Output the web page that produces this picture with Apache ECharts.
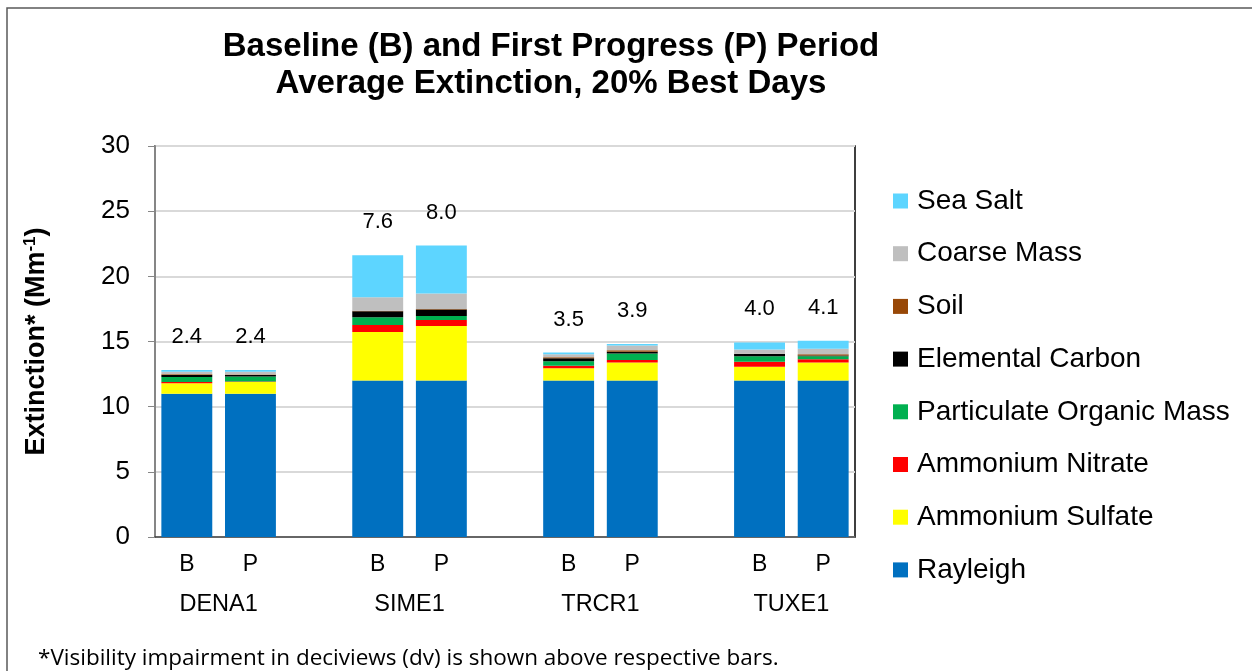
<!DOCTYPE html>
<html>
<head>
<meta charset="utf-8">
<title>Average Extinction, 20% Best Days</title>
<script src="https://cdn.jsdelivr.net/npm/echarts@6/dist/echarts.min.js"></script>
<style>
  html, body { margin: 0; padding: 0; background: #fff; }
  #chart { width: 1252px; height: 671px; }
</style>
</head>
<body>
<div id="chart"></div>
<script>
// sites and periods (B = baseline, P = first progress)
const sites = ['DENA1', 'SIME1', 'TRCR1', 'TUXE1'];
const periods = ['B', 'P'];

// extinction by component, Mm-1, order: DENA1 B,P / SIME1 B,P / TRCR1 B,P / TUXE1 B,P
const rayleigh   = [11, 11, 12, 12, 12, 12, 12, 12];
const sulfate    = [0.8, 0.9, 3.73, 4.19, 0.95, 1.38, 1.07, 1.38];
const nitrate    = [0.1, 0.03, 0.54, 0.46, 0.18, 0.2, 0.38, 0.26];
const organic    = [0.38, 0.38, 0.59, 0.31, 0.36, 0.49, 0.41, 0.23];
const elemental  = [0.15, 0.12, 0.46, 0.5, 0.23, 0.15, 0.18, 0.05];
const soil       = [0.05, 0.04, 0.03, 0.03, 0.08, 0.1, 0.02, 0.1];
const coarse     = [0.2, 0.2, 1.05, 1.2, 0.23, 0.38, 0.33, 0.43];
const seaSalt    = [0.13, 0.14, 3.22, 3.68, 0.13, 0.1, 0.54, 0.61];

// visibility impairment in deciviews, shown above bars
const deciviews  = [2.4, 2.4, 7.6, 8.0, 3.5, 3.9, 4.0, 4.1];

const yTicks = { min: 0, max: 30, step: 5 };

// Excel-style layout: an empty slot between each site's pair of bars
const categories = [];
sites.forEach((s, i) => {
  if (i > 0) categories.push('');
  periods.forEach(p => categories.push(p));
});
const spread = arr => {
  const out = [];
  arr.forEach((v, i) => {
    if (i > 0 && i % 2 === 0) out.push('-');
    out.push(v);
  });
  return out;
};
const dvSlots = spread(deciviews);

const components = [
  { name: 'Rayleigh', data: rayleigh, color: '#0070C0' },
  { name: 'Ammonium Sulfate', data: sulfate, color: '#FFFF00' },
  { name: 'Ammonium Nitrate', data: nitrate, color: '#FF0000' },
  { name: 'Particulate Organic Mass', data: organic, color: '#00B050' },
  { name: 'Elemental Carbon', data: elemental, color: '#000000' },
  { name: 'Soil', data: soil, color: '#984807' },
  { name: 'Coarse Mass', data: coarse, color: '#BFBFBF' },
  { name: 'Sea Salt', data: seaSalt, color: '#5DD5FF' }
];

const series = components.map((c, idx) => {
  const s = {
    name: c.name,
    type: 'bar',
    stack: 'ext',
    barCategoryGap: '20%',
    data: spread(c.data),
    itemStyle: { color: c.color },
    emphasis: { disabled: true }
  };
  if (idx === components.length - 1) {
    s.label = {
      show: true,
      position: 'top',
      distance: 22,
      fontSize: 22,
      color: '#000',
      fontFamily: 'Liberation Sans',
      formatter: p => dvSlots[p.dataIndex].toFixed(1)
    };
  }
  return s;
});

const chart = echarts.init(document.getElementById('chart'));

const option = {
  animation: false,
  textStyle: { fontFamily: 'Liberation Sans' },
  title: {
    text: 'Baseline (B) and First Progress (P) Period\nAverage Extinction, 20% Best Days',
    left: 546,
    top: 23,
    textAlign: 'center',
    textStyle: { fontSize: 33, fontWeight: 'bold', color: '#000', lineHeight: 37, fontFamily: 'Liberation Sans' }
  },
  legend: {
    orient: 'vertical',
    left: 888,
    top: 182,
    itemWidth: 15,
    itemHeight: 15,
    itemGap: 24.7,
    icon: 'rect',
    data: components.map(c => c.name).reverse(),
    textStyle: { fontSize: 28, color: '#000', lineHeight: 28, padding: [0, 0, 0, 4] }
  },
  grid: {
    left: 155, right: 397, top: 146, bottom: 134,
    show: true,
    borderColor: '#000',
    borderWidth: 1.5
  },
  xAxis: [
    {
      type: 'category',
      data: categories,
      axisLine: { lineStyle: { color: '#404040', width: 1.5 } },
      axisTick: { show: false },
      axisLabel: { fontSize: 23, color: '#000', margin: 16, interval: 0 }
    },
    {
      type: 'value',
      min: 0,
      max: categories.length,
      position: 'bottom',
      axisLine: { show: false },
      axisTick: { show: false },
      splitLine: { show: false },
      axisLabel: {
        customValues: sites.map((s, i) => 1 + i * 3),
        fontSize: 23.5,
        color: '#000',
        margin: 56,
        formatter: v => sites[Math.round((v - 1) / 3)] || ''
      }
    }
  ],
  yAxis: {
    type: 'value',
    min: yTicks.min,
    max: yTicks.max,
    interval: yTicks.step,
    name: 'Extinction* (Mm{sup|-1})',
    nameLocation: 'middle',
    nameGap: 104,
    nameTextStyle: {
      fontSize: 27,
      fontWeight: 'bold',
      color: '#000',
      rich: {
        sup: { fontSize: 17, fontWeight: 'bold', color: '#000', padding: [0, 0, 12, 0] }
      }
    },
    axisLine: { show: true, lineStyle: { color: '#868686', width: 2 } },
    axisTick: { show: true, length: 7, lineStyle: { color: '#868686' } },
    axisLabel: { fontSize: 26, color: '#000', margin: 25 },
    splitLine: { lineStyle: { color: '#D9D9D9', width: 2 } }
  },
  graphic: [
    {
      type: 'rect',
      shape: { x: 7, y: 8, width: 1300, height: 700 },
      style: { fill: 'none', stroke: '#595959', lineWidth: 1.5 },
      silent: true
    },
    {
      type: 'text',
      left: 38,
      top: 647,
      style: {
        text: '*Visibility impairment in deciviews (dv) is shown above respective bars.',
        fontSize: 22.5,
        fontFamily: 'Open Sans',
        fill: '#000'
      }
    }
  ],
  series: series
};

chart.setOption(option);
window.addEventListener('resize', function () {
  chart.resize();
});
</script>
</body>
</html>
